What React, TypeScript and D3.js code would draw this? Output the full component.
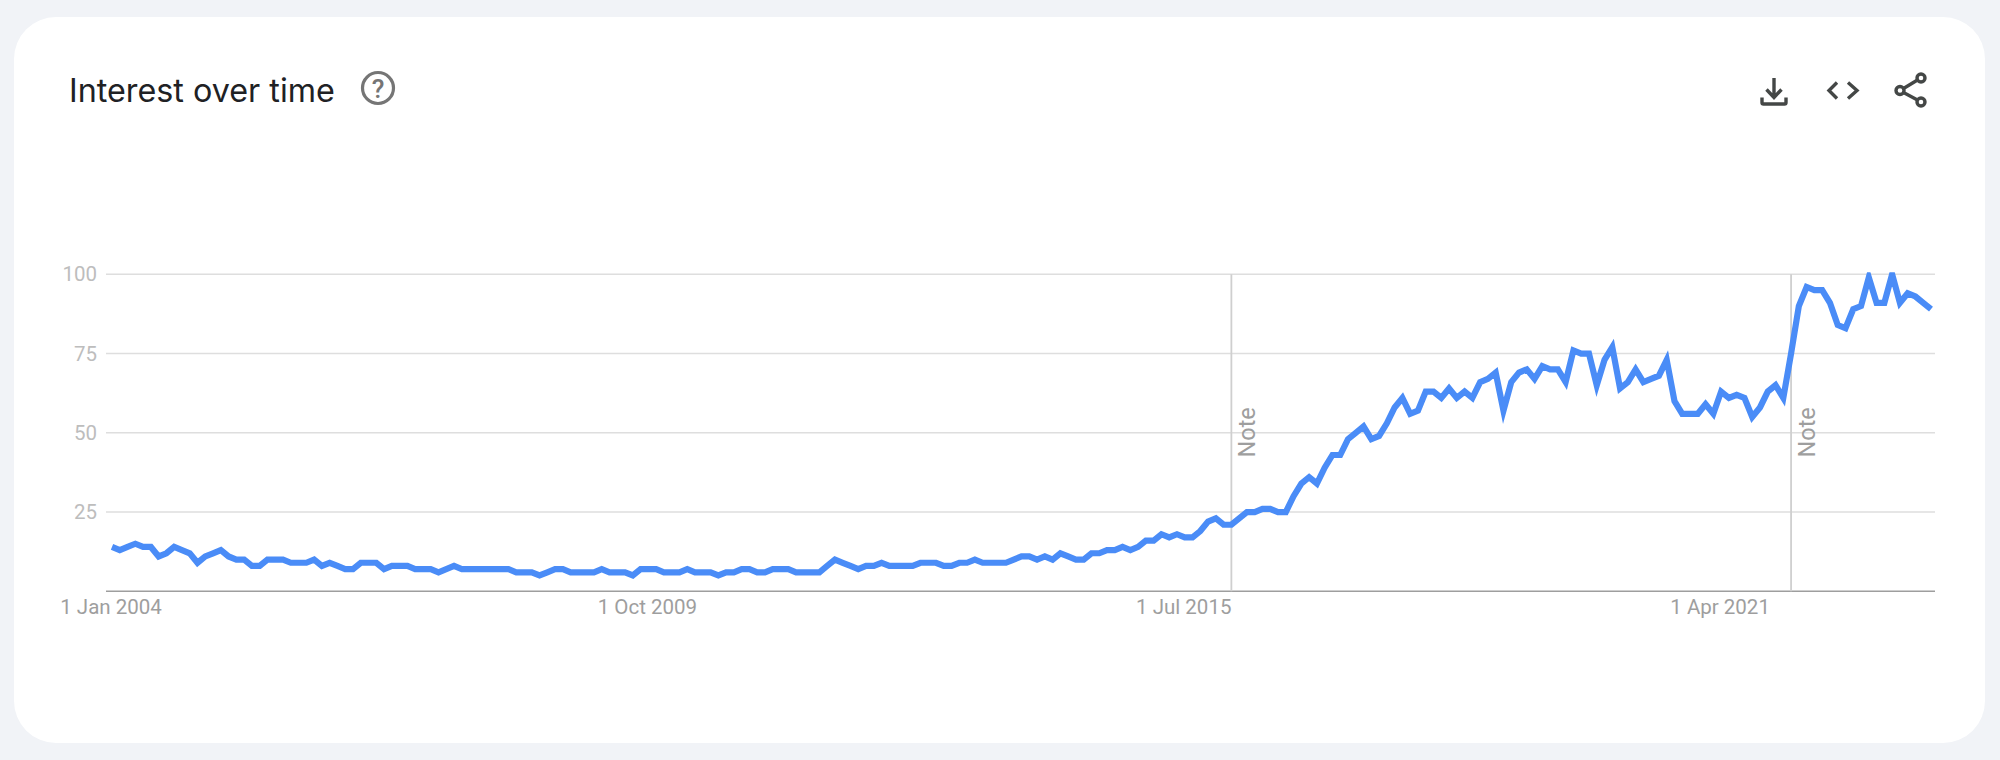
import React from "react";
import * as d3 from "d3";

const startDate = new Date(2004, 0, 1);
const values = [
  14,13,14,15,14,14,11,12,14,13,
  12,9,11,12,13,11,10,10,8,8,
  10,10,10,9,9,9,10,8,9,8,
  7,7,9,9,9,7,8,8,8,7,
  7,7,6,7,8,7,7,7,7,7,
  7,7,6,6,6,5,6,7,7,6,
  6,6,6,7,6,6,6,5,7,7,
  7,6,6,6,7,6,6,6,5,6,
  6,7,7,6,6,7,7,7,6,6,
  6,6,8,10,9,8,7,8,8,9,
  8,8,8,8,9,9,9,8,8,9,
  9,10,9,9,9,9,10,11,11,10,
  11,10,12,11,10,10,12,12,13,13,
  14,13,14,16,16,18,17,18,17,17,
  19,22,23,21,21,23,25,25,26,26,
  25,25,30,34,36,34,39,43,43,48,
  50,52,48,49,53,58,61,56,57,63,
  63,61,64,61,63,61,66,67,69,57,
  66,69,70,67,71,70,70,66,76,75,
  75,65,73,77,64,66,70,66,67,68,
  73,60,56,56,56,59,56,63,61,62,
  61,55,58,63,65,61,75,90,96,95,
  95,91,84,83,89,90,99,91,91,100,
  91,94,93,91,89,
];
const yTicks = [25, 50, 75, 100];
const xTickDates = [new Date(2004, 0, 1), new Date(2009, 9, 1), new Date(2015, 6, 1), new Date(2021, 3, 1)];
const xTickLabels = ["1 Jan 2004", "1 Oct 2009", "1 Jul 2015", "1 Apr 2021"];
const noteDates = [new Date(2016, 0, 1), new Date(2022, 0, 1)];

const W = 2000, H = 760;
const plotL = 106, plotR = 1935, plotT = 274.3, plotB = 591.3;

export default function App() {
  const dates = values.map((_, i) => d3.timeMonth.offset(startDate, i));
  const idx = d3.scaleLinear().domain([0, values.length - 1]).range([112, 1931]);
  const monthIndex = (d: Date) => d3.timeMonth.count(startDate, d);
  const x = (d: Date) => idx(monthIndex(d));
  const y = d3.scaleLinear().domain([0, 100]).range([plotB, plotT]);
  const line = d3.line<number>().x((_, i) => x(dates[i])).y((v) => y(v)).curve(d3.curveLinear);
  const font = "Roboto, sans-serif";

  return (
    <svg width={W} height={H} viewBox={`0 0 ${W} ${H}`} style={{ position: "absolute", left: 0, top: 0, display: "block" }}>
      <rect width={W} height={H} fill="#f1f3f7" />
      <rect x={14} y={17} width={1971} height={726} rx={42} fill="#ffffff" />

      <text x={69} y={102} fontFamily="Inter, Roboto, sans-serif" fontSize={32.3} fontWeight={400} fill="#202124">Interest over time</text>
      <circle cx={378} cy={88} r={15.5} strokeWidth={3.2} fill="none" stroke="#757575" />
      <text x={378} y={97.5} textAnchor="middle" fontFamily={font} fontSize={26} fontWeight={500} fill="#757575">?</text>

      <g fill="none" stroke="#444746" strokeWidth={3.4}>
        <path d="M1774 78V98M1766.5 89.5L1774 97.5L1781.5 89.5" />
        <path d="M1762 97.5V102.5Q1762 104 1763.5 104H1784.5Q1786 104 1786 102.5V97.5" />
        <path d="M1837 82.5L1829 90.5L1837 98.5M1848 82.5L1857 90.5L1848 98.5" />
        <path d="M1903.5 88.5L1917.5 80M1903.5 92.5L1917.5 100" />
        <circle cx={1900} cy={90.5} r={4} />
        <circle cx={1921} cy={78} r={4} />
        <circle cx={1921} cy={102} r={4} />
      </g>

      {yTicks.map((t) => (
        <g key={t}>
          <line x1={plotL} x2={plotR} y1={y(t)} y2={y(t)} stroke="#dedede" strokeWidth={1.4} />
          <text x={97} y={y(t) + 7} textAnchor="end" fontFamily={font} fontSize={20.5} fill="#bdbdbd">{t}</text>
        </g>
      ))}
      <line x1={plotL} x2={plotR} y1={plotB} y2={plotB} stroke="#9e9e9e" strokeWidth={1.6} />

      {noteDates.map((d, i) => (
        <g key={i}>
          <line x1={x(d)} x2={x(d)} y1={plotT} y2={plotB} stroke="#cfcfcf" strokeWidth={1.8} />
          <text transform={`translate(${x(d) + 24},457.5) rotate(-90)`} fontFamily={font} fontSize={23.5} fill="#9e9e9e">Note</text>
        </g>
      ))}

      {xTickDates.map((d, i) => (
        <text key={i} x={x(d) - 1} y={613.5} textAnchor="middle" fontFamily={font} fontSize={20.5} fill="#9e9e9e">{xTickLabels[i]}</text>
      ))}

      <defs>
        <clipPath id="plotClip">
          <rect x={plotL} y={plotT - 2} width={plotR - plotL} height={plotB - plotT + 2} />
        </clipPath>
      </defs>
      <path d={line(values) ?? ""} fill="none" stroke="#4a8cf7" strokeWidth={6.2} strokeLinejoin="miter" strokeMiterlimit={10} clipPath="url(#plotClip)" />
    </svg>
  );
}
